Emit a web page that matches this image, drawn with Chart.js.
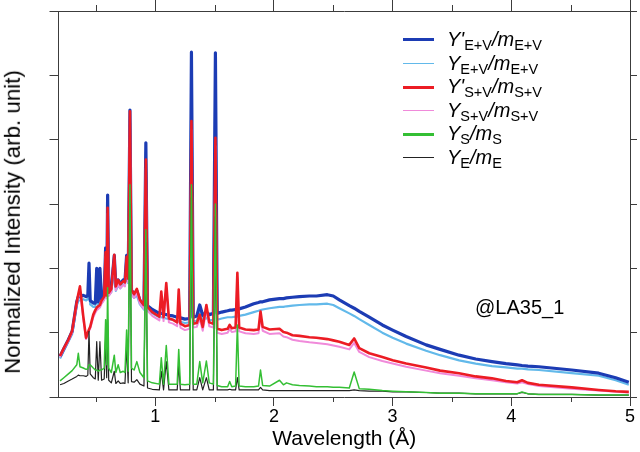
<!DOCTYPE html>
<html>
<head>
<meta charset="utf-8">
<script src="https://cdn.jsdelivr.net/npm/chart.js@4.4.0/dist/chart.umd.min.js"></script>
<style>
  body { margin: 0; background: #fff; }
  .wrap { position: relative; width: 640px; height: 452px; font-family: "Liberation Sans", Arial, sans-serif; }
  .legend { position: absolute; left: 403px; top: 28px; }
  .legend .row { position: relative; height: 23.6px; white-space: nowrap; }
  .legend .swatch { position: absolute; left: 0; width: 31px; top: 12px; }
  .legend .label { position: absolute; left: 44px; top: 0; font-size: 20px; line-height: 22px; color: #000; }
  .legend .label sub { font-size: 14.5px; vertical-align: -4px; font-style: normal; }
  .note { position: absolute; left: 475px; top: 296px; font-size: 20px; color: #000; }
  .ytitle { position: absolute; left: 13px; top: 222px; white-space: nowrap; font-size: 22.3px; line-height: 1; color: #000;
            transform: translate(-50%, -50%) rotate(-90deg); }
</style>
</head>
<body>
<div class="wrap">
  <canvas id="chart" width="640" height="452"></canvas>
  <div class="ytitle">Normalized Intensity (arb. unit)</div>
  <div class="legend"></div>
  <div class="note">@LA35_1</div>
</div>
<script>
// wavelength (Å) shared by every curve
const wavelength = [
  0.198,0.230,0.268,0.300,0.339,0.352,0.366,0.394,0.417,0.432,
  0.442,0.452,0.478,0.495,0.507,0.520,0.534,0.548,0.570,0.582,
  0.591,0.599,0.608,0.630,0.655,0.668,0.688,0.705,0.730,0.745,
  0.759,0.772,0.787,0.800,0.822,0.845,0.871,0.905,0.921,0.935,
  0.975,1.035,1.051,1.070,1.093,1.115,1.150,1.185,1.198,1.212,
  1.250,1.290,1.305,1.320,1.350,1.375,1.400,1.431,1.455,1.490,
  1.507,1.522,1.560,1.610,1.627,1.645,1.677,1.692,1.707,1.760,
  1.830,1.870,1.887,1.905,1.963,2.047,2.080,2.106,2.156,2.215,
  2.299,2.358,2.450,2.500,2.551,2.635,2.676,2.719,2.803,2.913,3.000,
  3.114,3.282,3.400,3.560,3.700,3.837,3.955,4.050,4.090,4.140,
  4.232,4.509,4.736,4.879,4.990
];

// Y'E+V / mE+V
const yEVprime = [
  0.63,0.75,0.89,1.02,1.48,1.56,1.56,1.58,1.56,1.58,
  2.08,1.50,1.46,1.46,2.00,1.48,2.00,1.52,1.58,2.32,
  1.60,3.14,1.65,1.70,2.20,1.72,1.82,1.76,1.82,1.80,
  2.20,1.84,4.46,1.66,1.60,1.65,1.50,1.42,3.95,1.42,
  1.36,1.30,1.30,1.29,1.28,1.27,1.26,1.24,1.24,1.23,
  1.21,1.22,5.36,1.24,1.26,1.43,1.27,1.32,1.28,1.30,
  5.35,1.30,1.32,1.34,1.35,1.35,1.36,1.36,1.37,1.40,
  1.45,1.47,1.48,1.48,1.51,1.53,1.53,1.54,1.55,1.56,
  1.57,1.57,1.59,1.57,1.51,1.42,1.38,1.33,1.24,1.12,1.04,
  0.94,0.81,0.74,0.65,0.59,0.55,0.52,0.50,0.49,0.48,
  0.47,0.42,0.37,0.30,0.23
];

// YE+V / mE+V
const yEV = [
  0.60,0.72,0.86,0.98,1.42,1.50,1.50,1.52,1.50,1.52,
  1.95,1.44,1.40,1.40,1.90,1.42,1.90,1.46,1.52,2.20,
  1.54,3.00,1.58,1.63,2.10,1.65,1.74,1.69,1.75,1.73,
  2.10,1.77,4.30,1.60,1.54,1.58,1.44,1.36,3.80,1.36,
  1.30,1.24,1.24,1.23,1.22,1.21,1.20,1.18,1.18,1.17,
  1.15,1.16,5.10,1.18,1.18,1.34,1.19,1.23,1.19,1.20,
  5.10,1.20,1.22,1.24,1.24,1.24,1.25,1.25,1.26,1.28,
  1.32,1.34,1.35,1.36,1.38,1.40,1.40,1.41,1.42,1.43,
  1.44,1.44,1.45,1.43,1.38,1.30,1.26,1.21,1.12,1.00,0.92,
  0.83,0.72,0.65,0.57,0.52,0.48,0.46,0.44,0.44,0.43,
  0.42,0.37,0.33,0.26,0.19
];

// Y'S+V / mS+V
const ySVprime = [
  0.64,0.76,0.89,1.03,1.48,1.60,1.72,1.25,0.92,1.00,
  1.05,1.09,1.28,1.35,1.39,1.41,1.43,1.50,1.56,2.25,
  1.58,2.94,1.62,1.68,2.21,1.72,1.82,1.75,1.80,1.78,
  2.18,1.84,4.44,1.66,1.60,1.68,1.51,1.43,3.69,1.40,
  1.32,1.25,1.64,1.24,1.77,1.22,1.20,1.16,1.67,1.14,
  1.10,1.12,4.29,1.14,1.15,1.28,1.09,1.43,1.16,1.14,
  4.03,1.06,1.04,1.06,1.12,1.07,1.08,1.93,1.08,1.05,
  1.04,1.05,1.33,1.09,1.05,1.06,1.01,1.00,0.96,0.95,
  0.93,0.92,0.90,0.88,0.86,0.81,0.91,0.76,0.68,0.62,0.57,
  0.52,0.46,0.41,0.37,0.32,0.29,0.25,0.23,0.26,0.22,
  0.19,0.15,0.11,0.09,0.08
];

// YS+V / mS+V
const ySV = [
  0.62,0.74,0.87,1.00,1.44,1.56,1.66,1.22,0.90,0.98,
  1.03,1.06,1.24,1.31,1.35,1.37,1.39,1.45,1.51,2.18,
  1.53,2.85,1.57,1.63,2.14,1.66,1.76,1.69,1.74,1.72,
  2.10,1.78,4.30,1.60,1.54,1.62,1.45,1.37,3.55,1.34,
  1.26,1.19,1.58,1.18,1.70,1.16,1.14,1.10,1.60,1.08,
  1.04,1.06,4.15,1.08,1.09,1.22,1.03,1.36,1.10,1.08,
  3.90,1.00,0.98,1.00,1.06,1.01,1.02,1.85,1.02,0.99,
  0.98,0.99,1.27,1.03,0.98,0.99,0.94,0.93,0.89,0.87,
  0.85,0.84,0.82,0.80,0.78,0.74,0.84,0.70,0.62,0.56,0.52,
  0.47,0.41,0.37,0.33,0.29,0.26,0.23,0.21,0.23,0.20,
  0.17,0.13,0.10,0.08,0.07
];

// YS / mS
const yS = [
  0.25,0.30,0.36,0.41,0.50,0.68,0.47,0.45,0.43,0.44,
  0.50,0.50,0.45,0.42,0.42,0.40,0.42,0.42,0.45,1.20,
  0.50,1.70,0.45,0.38,0.65,0.38,0.50,0.38,0.40,0.38,
  1.04,0.40,3.30,0.45,0.42,0.55,0.38,0.30,2.60,0.25,
  0.22,0.20,0.61,0.20,0.80,0.20,0.20,0.20,0.74,0.20,
  0.19,0.20,3.30,0.20,0.20,0.55,0.22,0.56,0.22,0.20,
  3.00,0.18,0.16,0.16,0.24,0.16,0.17,1.12,0.17,0.16,
  0.16,0.17,0.42,0.18,0.17,0.26,0.19,0.22,0.19,0.18,
  0.17,0.16,0.16,0.15,0.15,0.14,0.39,0.13,0.12,0.10,0.09,
  0.08,0.07,0.06,0.06,0.05,0.05,0.05,0.05,0.08,0.05,
  0.04,0.04,0.03,0.03,0.03
];

// YE / mE
const yE = [
  0.19,0.21,0.25,0.28,0.32,0.34,0.33,0.33,0.32,0.34,
  1.02,0.36,0.30,0.28,0.86,0.26,0.86,0.26,0.28,0.90,
  0.30,1.20,0.26,0.22,0.40,0.21,0.25,0.21,0.22,0.21,
  0.80,0.22,3.00,0.24,0.23,0.27,0.20,0.17,2.40,0.14,
  0.12,0.11,0.40,0.11,0.55,0.11,0.11,0.11,0.50,0.11,
  0.11,0.11,3.10,0.11,0.11,0.30,0.11,0.30,0.11,0.11,
  2.80,0.11,0.11,0.11,0.12,0.11,0.11,0.30,0.11,0.11,
  0.11,0.11,0.15,0.11,0.10,0.10,0.10,0.10,0.10,0.10,
  0.10,0.10,0.10,0.10,0.10,0.10,0.11,0.10,0.09,0.09,0.08,
  0.08,0.07,0.06,0.06,0.05,0.05,0.05,0.05,0.07,0.05,
  0.04,0.04,0.03,0.03,0.03
];

const xMajorTicks = [1, 2, 3, 4, 5];
const xMinorTicks = [0.5, 1.5, 2.5, 3.5, 4.5];

const axisColor = "#3c3c3c";
const fontFamily = '"Liberation Sans", Arial, Helvetica, sans-serif';

// legend rows, top to bottom
const legendItems = [
  { html: "<i>Y'</i><sub>E+V</sub><i>/m</i><sub>E+V</sub>", color: "#1c3cb4", width: 3.5 },
  { html: "<i>Y</i><sub>E+V</sub><i>/m</i><sub>E+V</sub>", color: "#62b9ea", width: 1.8 },
  { html: "<i>Y'</i><sub>S+V</sub><i>/m</i><sub>S+V</sub>", color: "#ec1c24", width: 3 },
  { html: "<i>Y</i><sub>S+V</sub><i>/m</i><sub>S+V</sub>", color: "#f08ada", width: 1.8 },
  { html: "<i>Y</i><sub>S</sub><i>/m</i><sub>S</sub>", color: "#34bf34", width: 3 },
  { html: "<i>Y</i><sub>E</sub><i>/m</i><sub>E</sub>", color: "#222222", width: 1.3 }
];

function series(values) {
  return wavelength.map((x, i) => ({ x: x, y: values[i] }));
}

function line(values, color, width, order) {
  return {
    data: series(values),
    borderColor: color,
    borderWidth: width,
    pointRadius: 0,
    tension: 0,
    borderJoinStyle: "round",
    fill: false,
    order: order
  };
}

// short minor ticks on the bottom and top axes
const minorTicks = {
  id: "minorTicks",
  afterDraw(chart) {
    const { ctx, chartArea: a, scales: { x } } = chart;
    ctx.save();
    ctx.strokeStyle = axisColor;
    ctx.lineWidth = 1;
    xMinorTicks.forEach(v => {
      const px = Math.round(x.getPixelForValue(v)) + 0.5;
      ctx.beginPath();
      ctx.moveTo(px, a.bottom);
      ctx.lineTo(px, a.bottom + 5);
      ctx.moveTo(px, a.top);
      ctx.lineTo(px, a.top - 6);
      ctx.stroke();
    });
    ctx.restore();
  }
};

const gridOpts = (len) => ({
  display: true,
  drawOnChartArea: false,
  drawTicks: true,
  tickLength: len,
  tickColor: axisColor,
  tickWidth: 1
});

Chart.defaults.font.family = fontFamily;
Chart.defaults.color = "#000";

new Chart(document.getElementById("chart"), {
  type: "line",
  data: {
    datasets: [
      line(yEV, legendItems[1].color, 2.2, 5),
      line(yEVprime, legendItems[0].color, 3.2, 4),
      line(ySV, legendItems[3].color, 2, 3),
      line(ySVprime, legendItems[2].color, 2.6, 2),
      line(yE, legendItems[5].color, 1.2, 1),
      line(yS, legendItems[4].color, 1.5, 0)
    ]
  },
  options: {
    responsive: false,
    animation: false,
    devicePixelRatio: 1,
    layout: { padding: { left: 49.5, right: 3, top: 0, bottom: 1.3 } },
    plugins: { legend: { display: false }, tooltip: { enabled: false } },
    scales: {
      x: {
        type: "linear",
        position: "bottom",
        min: 0.185,
        max: 5.0,
        afterBuildTicks: s => { s.ticks = xMajorTicks.map(v => ({ value: v })); },
        grid: gridOpts(9),
        border: { display: true, color: axisColor, width: 1 },
        ticks: { font: { size: 18 }, color: "#000", padding: 0, maxRotation: 0 },
        title: { display: true, text: "Wavelength (Å)", font: { size: 21, lineHeight: 1.1 }, color: "#000", padding: { top: 0, bottom: 0 } }
      },
      x2: {
        type: "linear",
        position: "top",
        min: 0.185,
        max: 5.0,
        afterBuildTicks: s => { s.ticks = xMajorTicks.map(v => ({ value: v })); },
        grid: gridOpts(11),
        border: { display: true, color: axisColor, width: 1 },
        ticks: { display: false }
      },
      y: {
        type: "linear",
        position: "left",
        min: 0,
        max: 6,
        ticks: { display: false, stepSize: 1 },
        grid: gridOpts(9),
        border: { display: true, color: axisColor, width: 1 }
      },
      y2: {
        type: "linear",
        position: "right",
        min: 0,
        max: 6,
        ticks: { display: false, stepSize: 1 },
        grid: gridOpts(7),
        border: { display: true, color: axisColor, width: 1 }
      }
    }
  },
  plugins: [minorTicks]
});

// html legend (keeps the subscripts as real text)
const legendBox = document.querySelector(".legend");
legendItems.forEach(item => {
  const row = document.createElement("div");
  row.className = "row";
  row.innerHTML = `<span class="swatch" style="border-top:${item.width}px solid ${item.color};margin-top:${-item.width / 2}px"></span><span class="label">${item.html}</span>`;
  legendBox.appendChild(row);
});
</script>
</body>
</html>
